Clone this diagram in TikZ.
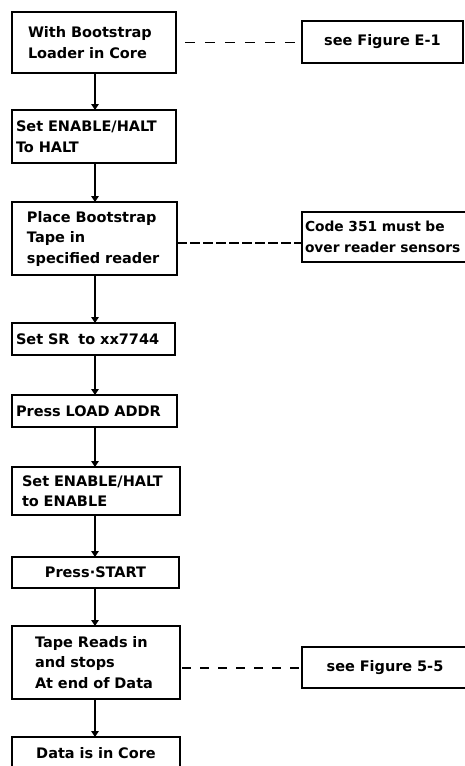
\documentclass[tikz,border=0pt]{standalone}
\usepackage{fontspec}
\setmainfont{DejaVu Sans}
\usetikzlibrary{arrows.meta}
\begin{document}
\begin{tikzpicture}[x=1pt,y=-1pt,
  box/.style={draw, line width=2.4pt, rectangle, outer sep=0pt, inner xsep=2pt, inner ysep=0pt,
    font=\bfseries\fontsize{14.5}{20.5}\selectfont, align=left},
  lpad/.style={execute at begin node={\leftskip=#1\relax}},
  flow/.style={line width=2.2pt, -{Triangle[length=6pt,width=7.5pt]}},
  note/.style={line width=1.8pt, dash pattern=on 10pt off 10pt},
  finenote/.style={line width=1.8pt, dash pattern=on 10pt off 3pt}]
\useasboundingbox[fill=white] (0,0) rectangle (465,766);
\coordinate (spine) at (95,0);
% main column
\node[box, text width=160pt, minimum height=61pt, lpad=14pt] (b1) at (94,42.5) {With Bootstrap\\Loader in Core};
\node[box, text width=160pt, minimum height=53pt, lpad=2pt] (b2) at (94,136.5) {Set ENABLE/HALT\\To HALT};
\node[box, text width=161pt, minimum height=73pt, lpad=13pt] (b3) at (94.5,238.5) {Place Bootstrap\\Tape in\\specified reader};
\node[box, text width=159pt, minimum height=32pt, lpad=2pt] (b4) at (93.5,339) {Set SR\hspace{4pt} to xx7744};
\node[box, text width=161pt, minimum height=32pt, lpad=2pt] (b5) at (94.5,411) {Press LOAD ADDR};
\node[box, text width=164pt, minimum height=48pt, lpad=8pt] (b6) at (96,491) {Set ENABLE/HALT\\to ENABLE};
\node[box, text width=163pt, minimum height=31pt, align=center] (b7) at (95.5,572.5) {Press·START};
\node[box, text width=164pt, minimum height=73pt, lpad=21pt] (b8) at (96,662.5) {Tape Reads in\\and stops\\At end of Data};
\node[box, text width=164pt, minimum height=32pt, align=center] (b9) at (96,753) {Data is in Core};
% side notes
\node[box, text width=157pt, minimum height=42pt, align=center] (r1) at (382.5,42) {see Figure E-1};
\node[box, text width=176pt, minimum height=50pt, lpad=1pt, font=\bfseries\fontsize{13.8}{20.5}\selectfont] (r2) at (392,237) {Code 351 must be\\over reader sensors};
\node[box, text width=162pt, minimum height=41pt, align=center] (r3) at (385,667.5) {see Figure 5-5};
% flow connectors
\draw[flow] (b1.south -| spine) -- (b2.north -| spine);
\draw[flow] (b2.south -| spine) -- (b3.north -| spine);
\draw[flow] (b3.south -| spine) -- (b4.north -| spine);
\draw[flow] (b4.south -| spine) -- (b5.north -| spine);
\draw[flow] (b5.south -| spine) -- (b6.north -| spine);
\draw[flow] (b6.south -| spine) -- (b7.north -| spine);
\draw[flow] (b7.south -| spine) -- (b8.north -| spine);
\draw[flow] (b8.south -| spine) -- (b9.north -| spine);
% dashed references
\draw[note] ([xshift=9pt]b1.east) -- (b1.east -| r1.west);
\draw[finenote] ([yshift=-4.5pt]b3.east) -- ([yshift=-4.5pt]b3.east -| r2.west);
\draw[note, dash pattern=on 9pt off 9pt] ([xshift=2pt,yshift=-5.5pt]b8.east) -- ([yshift=-5.5pt]b8.east -| r3.west);
\end{tikzpicture}
\end{document}
